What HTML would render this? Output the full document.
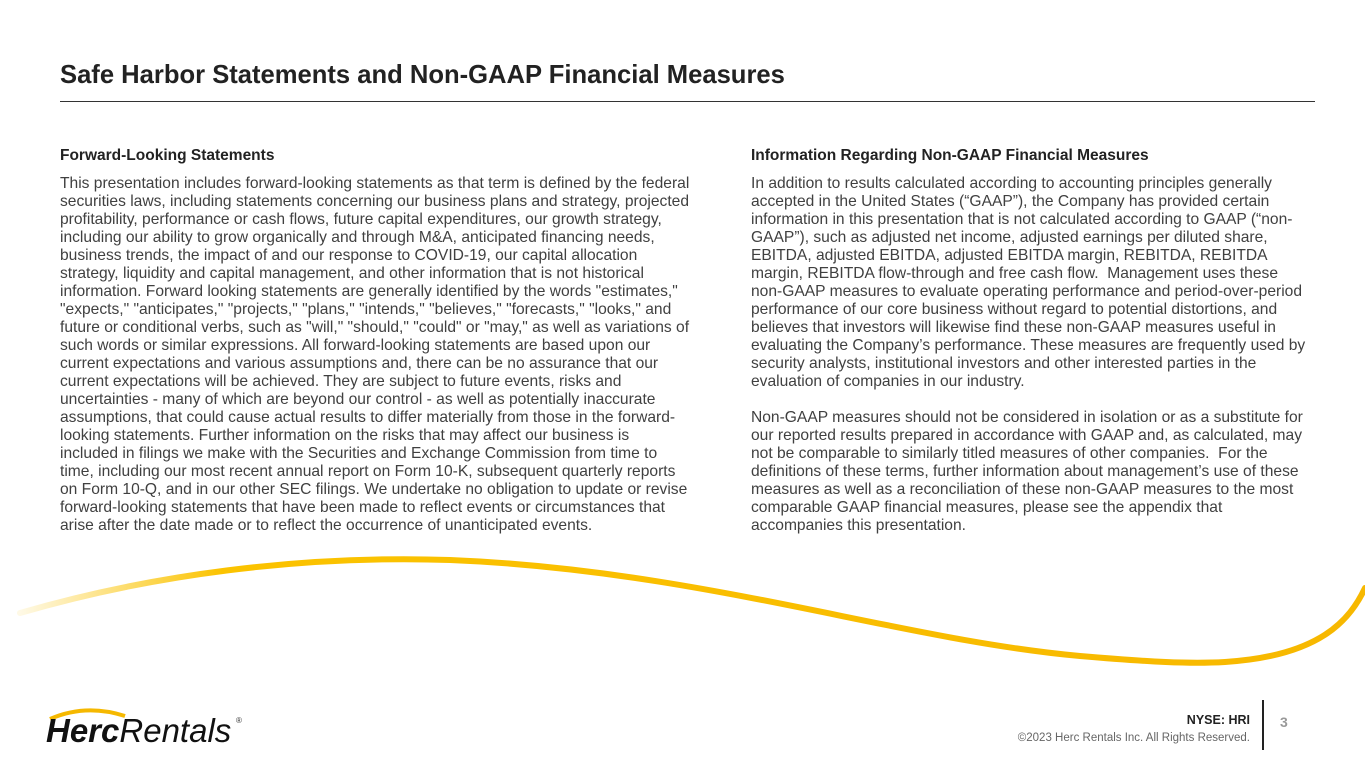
<!DOCTYPE html>
<html><head><meta charset="utf-8"><style>
body{margin:0;width:1365px;height:769px;background:#fff;position:relative;overflow:hidden;font-family:"Liberation Sans",Arial,sans-serif;color:#404040}
h1{position:absolute;left:60px;top:61px;margin:0;font-size:25.6px;font-weight:bold;color:#222}
.rule{position:absolute;left:60px;top:101px;width:1255px;height:1px;background:#333}
.col{position:absolute;top:147px;font-size:15.6px;line-height:18px;white-space:nowrap}
.col h3{margin:0 0 10px 0;font-size:15.5px;font-weight:bold;color:#222}
.col p{margin:0}
</style></head><body>
<h1>Safe Harbor Statements and Non-GAAP Financial Measures</h1>
<div class="rule"></div>
<div class="col" style="left:60px">
<h3>Forward-Looking Statements</h3>
<p>This presentation includes forward-looking statements as that term is defined by the federal<br>securities laws, including statements concerning our business plans and strategy, projected<br>profitability, performance or cash flows, future capital expenditures, our growth strategy,<br>including our ability to grow organically and through M&amp;A, anticipated financing needs,<br>business trends, the impact of and our response to COVID-19, our capital allocation<br>strategy, liquidity and capital management, and other information that is not historical<br>information. Forward looking statements are generally identified by the words "estimates,"<br>"expects," "anticipates," "projects," "plans," "intends," "believes," "forecasts," "looks," and<br>future or conditional verbs, such as "will," "should," "could" or "may," as well as variations of<br>such words or similar expressions. All forward-looking statements are based upon our<br>current expectations and various assumptions and, there can be no assurance that our<br>current expectations will be achieved. They are subject to future events, risks and<br>uncertainties - many of which are beyond our control - as well as potentially inaccurate<br>assumptions, that could cause actual results to differ materially from those in the forward-<br>looking statements. Further information on the risks that may affect our business is<br>included in filings we make with the Securities and Exchange Commission from time to<br>time, including our most recent annual report on Form 10-K, subsequent quarterly reports<br>on Form 10-Q, and in our other SEC filings. We undertake no obligation to update or revise<br>forward-looking statements that have been made to reflect events or circumstances that<br>arise after the date made or to reflect the occurrence of unanticipated events.</p>
</div>
<div class="col" style="left:751px">
<h3>Information Regarding Non-GAAP Financial Measures</h3>
<p>In addition to results calculated according to accounting principles generally<br>accepted in the United States (“GAAP”), the Company has provided certain<br>information in this presentation that is not calculated according to GAAP (“non-<br>GAAP”), such as adjusted net income, adjusted earnings per diluted share,<br>EBITDA, adjusted EBITDA, adjusted EBITDA margin, REBITDA, REBITDA<br>margin, REBITDA flow-through and free cash flow.&nbsp; Management uses these<br>non-GAAP measures to evaluate operating performance and period-over-period<br>performance of our core business without regard to potential distortions, and<br>believes that investors will likewise find these non-GAAP measures useful in<br>evaluating the Company’s performance. These measures are frequently used by<br>security analysts, institutional investors and other interested parties in the<br>evaluation of companies in our industry.</p>
<p style="margin-top:18px">Non-GAAP measures should not be considered in isolation or as a substitute for<br>our reported results prepared in accordance with GAAP and, as calculated, may<br>not be comparable to similarly titled measures of other companies.&nbsp; For the<br>definitions of these terms, further information about management’s use of these<br>measures as well as a reconciliation of these non-GAAP measures to the most<br>comparable GAAP financial measures, please see the appendix that<br>accompanies this presentation.</p>
</div>
<svg width="1365" height="769" style="position:absolute;left:0;top:0">
<defs><linearGradient id="g" x1="0" x2="1" y1="0" y2="0"><stop offset="0" stop-color="#fbc300" stop-opacity="0.1"/><stop offset="0.15" stop-color="#fbc300"/><stop offset="1" stop-color="#f7b800"/></linearGradient></defs>
<path d="M20,613 C150,575 300,555 450,560 C700,570 900,640 1080,656 C1150,662 1190,664 1225,662 C1320,656 1350,620 1365,588" fill="none" stroke="url(#g)" stroke-width="6" stroke-linecap="round"/>
<path d="M50,719 C75,708 100,708 125,716" fill="none" stroke="#f5b800" stroke-width="4"/>
<text x="46" y="742" font-family="Liberation Sans" font-size="33" font-style="italic" fill="#111"><tspan font-weight="bold">Herc</tspan>Rentals</text>
<text x="236" y="723" font-family="Liberation Sans" font-size="8" fill="#333">®</text>
<text x="1250" y="724" text-anchor="end" font-family="Liberation Sans" font-size="12.5" font-weight="bold" fill="#222">NYSE: HRI</text>
<text x="1250" y="741" text-anchor="end" font-family="Liberation Sans" font-size="11.5" fill="#666">©2023 Herc Rentals Inc.  All Rights Reserved.</text>
<rect x="1262" y="700" width="2" height="50" fill="#222"/>
<text x="1280" y="727" font-family="Liberation Sans" font-size="14" font-weight="bold" fill="#999">3</text>
</svg>
</body></html>
